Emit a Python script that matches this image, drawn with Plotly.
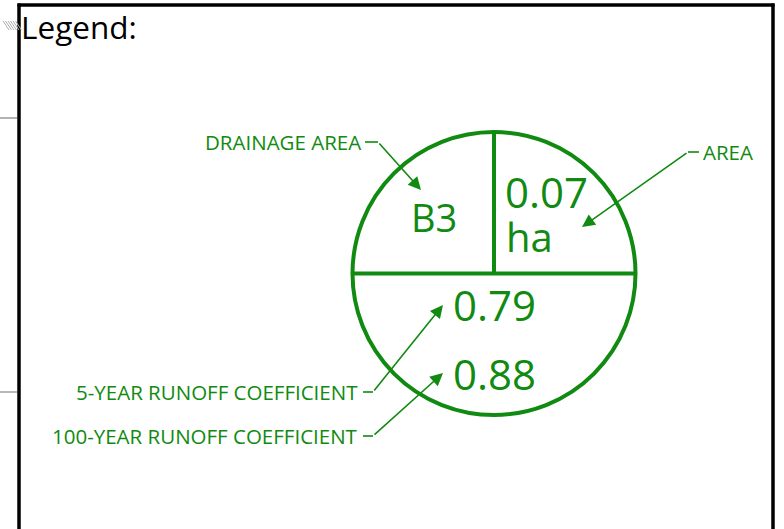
import plotly.graph_objects as go

# ---- data -------------------------------------------------------------
drainage_area = "B3"
area_value = "0.07"
area_unit = "ha"
runoff_5yr = "0.79"
runoff_100yr = "0.88"

callout_labels = ["DRAINAGE AREA", "AREA", "5-YEAR RUNOFF COEFFICIENT", "100-YEAR RUNOFF COEFFICIENT"]
title_text = "Legend:"

GREEN = "#108a10"
FONT = "Open Sans"
W, H = 784, 529

fig = go.Figure()

shapes = []
annotations = []

# frame
shapes.append(dict(type="line", x0=17.5, y0=5, x1=774.5, y1=5, line=dict(color="black", width=3.5)))
shapes.append(dict(type="line", x0=19, y0=3.5, x1=19, y1=H + 2, line=dict(color="black", width=3.5)))
shapes.append(dict(type="line", x0=773, y0=3.5, x1=773, y1=H + 2, line=dict(color="black", width=3.5)))

# gray background artefacts left of frame
for i in range(6):
    shapes.append(dict(type="line", x0=3 + i * 2.5, y0=21, x1=9 + i * 2.5, y1=30,
                       line=dict(color="#b0b0b0", width=1)))
shapes.append(dict(type="line", x0=0, y0=118, x1=17, y1=118, line=dict(color="#9a9a9a", width=1.5)))
shapes.append(dict(type="line", x0=0, y0=392, x1=17, y1=392, line=dict(color="#a0a0a0", width=1.5)))
annotations.append(dict(x=-1, y=67, xref="x", yref="y", text="7  (", showarrow=False,
                        xanchor="left", yanchor="middle", font=dict(family=FONT, size=11, color="#a8a8a8")))

# circle symbol
cx, cy, r = 494, 273.5, 141.5
shapes.append(dict(type="circle", x0=cx - r, y0=cy - r, x1=cx + r, y1=cy + r,
                   line=dict(color=GREEN, width=4)))
shapes.append(dict(type="line", x0=cx - r, y0=cy, x1=cx + r, y1=cy, line=dict(color=GREEN, width=4)))
shapes.append(dict(type="line", x0=cx, y0=cy - r, x1=cx, y1=cy, line=dict(color=GREEN, width=4)))

# values inside the circle
annotations += [
    dict(x=434, y=217, text=drainage_area, xanchor="center", yanchor="middle", font=dict(family=FONT, size=38, color=GREEN)),
    dict(x=503, y=191, text=area_value, xanchor="left", yanchor="middle", height=40, font=dict(family=FONT, size=42, color=GREEN)),
    dict(x=504, y=236, text=area_unit, xanchor="left", yanchor="middle", height=40, font=dict(family=FONT, size=40, color=GREEN)),
    dict(x=494, y=304, text=runoff_5yr, xanchor="center", yanchor="middle", font=dict(family=FONT, size=42, color=GREEN)),
    dict(x=494, y=373, text=runoff_100yr, xanchor="center", yanchor="middle", font=dict(family=FONT, size=42, color=GREEN)),
]
for a in annotations[-5:]:
    a.update(xref="x", yref="y", showarrow=False)

# callouts: label anchor, elbow, arrow tip
label_font = dict(family=FONT, size=20.5, color=GREEN)
callouts = [
    # text x, text y, anchor, stub start x, elbow x, tip x, tip y
    (363, 142, "right", 365, 378, 421, 190),
    (701, 152, "left", 699, 688, 582, 227),
    (360, 392, "right", 363, 373, 443, 305),
    (360, 436, "right", 363, 373, 443, 373),
]
for label, (tx, ty, anc, sx, ex, px, py) in zip(callout_labels, callouts):
    annotations.append(dict(x=tx, y=ty, xref="x", yref="y", text=label, showarrow=False,
                            xanchor=anc, yanchor="middle", font=label_font))
    shapes.append(dict(type="line", x0=sx, y0=ty, x1=ex, y1=ty, line=dict(color=GREEN, width=1.6)))
    annotations.append(dict(x=px, y=py, ax=ex, ay=ty, xref="x", yref="y", axref="x", ayref="y",
                            text="", showarrow=True, arrowhead=2, arrowsize=1.6, arrowwidth=1.6,
                            arrowcolor=GREEN, standoff=0, startstandoff=0))

# title
annotations.append(dict(x=19, y=26, xref="x", yref="y", text=title_text, showarrow=False,
                        xanchor="left", yanchor="middle", font=dict(family=FONT, size=31.5, color="black")))

fig.update_layout(
    width=W, height=H,
    margin=dict(l=0, r=0, t=0, b=0),
    paper_bgcolor="white", plot_bgcolor="white",
    xaxis=dict(range=[0, W], visible=False, fixedrange=True),
    yaxis=dict(range=[H, 0], visible=False, fixedrange=True),
    shapes=shapes, annotations=annotations, showlegend=False,
)

fig.write_html("out.html", config={"displayModeBar": False},
               post_script="document.body.style.margin='0';")
